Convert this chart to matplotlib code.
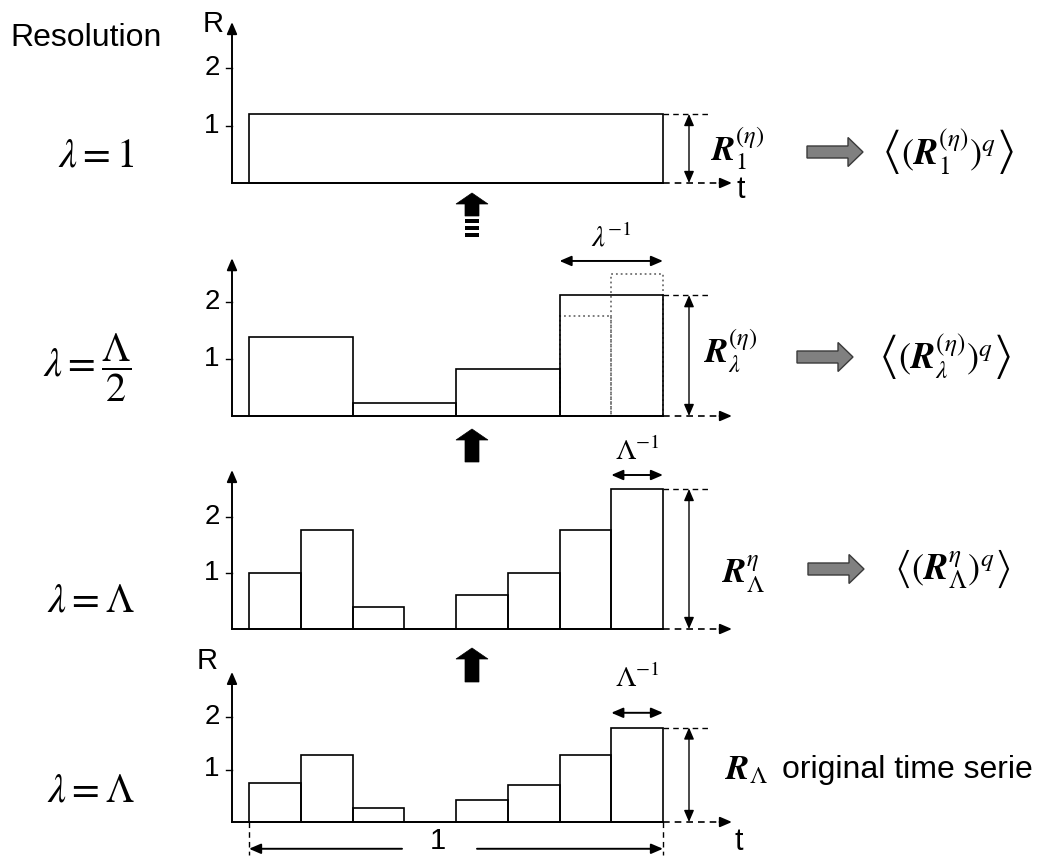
import numpy as np
import matplotlib.pyplot as plt
from matplotlib.patches import FancyArrow, Rectangle


plt.rcParams["font.family"] = ["Liberation Sans", "DejaVu Sans"]
plt.rcParams["mathtext.fontset"] = "stix"

# bar heights, one list per resolution
heights_res1 = [1.2]
heights_half = [1.38, 0.22, 0.82, 2.12]
heights_half_detail = [1.75, 2.5]  # dotted sub-bars in the last half-bin
heights_full = [1.0, 1.76, 0.4, 0.0, 0.6, 1.0, 1.76, 2.5]
heights_orig = [0.74, 1.28, 0.27, 0.0, 0.42, 0.71, 1.28, 1.8]
y_ticks = [1, 2]

W, H = 1058, 857
X0, X1 = 249, 663          # pixel position of t=0 and t=1
AX_LEFT, AX_RIGHT = 195, 770


def tpos(px):
    return (px - X0) / (X1 - X0)


AXIS_T = tpos(232)
BASE_END = tpos(732)
TOP_END = tpos(708)
V_T = tpos(689)
DASH = (0, (4, 3))


def panel_axes(fig, base, unit, top=3.3, bottom=0.62):
    y_top = base - top * unit
    y_bot = base + bottom * unit
    ax = fig.add_axes([AX_LEFT / W, 1 - y_bot / H, (AX_RIGHT - AX_LEFT) / W, (y_bot - y_top) / H])
    ax.set_xlim(tpos(AX_LEFT), tpos(AX_RIGHT))
    ax.set_ylim(-bottom, top)
    ax.axis("off")
    return ax


def arrow(ax, start, end, style="-|>", lw=1.4):
    ax.annotate("", xy=end, xytext=start,
                arrowprops=dict(arrowstyle=f"{style},head_length=0.7,head_width=0.3",
                                lw=lw, color="black", shrinkA=0, shrinkB=0),
                annotation_clip=False)


def draw_panel(ax, heights, axis_top):
    n = len(heights)
    left = np.arange(n) / n
    ax.bar(left, heights, width=1 / n, align="edge", fill=False,
           edgecolor="black", linewidth=1.2, clip_on=False)
    # axes
    arrow(ax, (AXIS_T, 0), (AXIS_T, axis_top))
    ax.plot([AXIS_T, 1], [0, 0], color="black", lw=1.4, clip_on=False)
    ax.plot([1, BASE_END - 0.02], [0, 0], color="black", lw=1.2, ls=DASH, clip_on=False)
    arrow(ax, (BASE_END - 0.03, 0), (BASE_END, 0))
    for v in y_ticks:
        ax.plot([AXIS_T - 0.015, AXIS_T], [v, v], color="black", lw=1.0, clip_on=False)
        ax.text(AXIS_T - 0.03, v, str(v), ha="right", va="center", fontsize=20)
    # height marker on the right
    top = max(heights)
    ax.plot([1, TOP_END], [top, top], color="black", lw=1.0, ls=DASH, clip_on=False)
    arrow(ax, (V_T, 0), (V_T, top), style="<|-|>", lw=1.0)
    return top


def width_marker(ax, t0, t1, y, label, label_y):
    arrow(ax, (t0, y), (t1, y), style="<|-|>", lw=1.4)
    ax.text((t0 + t1) / 2, label_y, label, ha="center", va="center", fontsize=21)


fig = plt.figure(figsize=(W / 100, H / 100), dpi=100)

# resolution 1
ax1 = panel_axes(fig, 183, 57.5)
draw_panel(ax1, heights_res1, 2.8)
ax1.text(tpos(711), 0.6, r"$\mathbfit{R}_1^{(\eta)}$", ha="left", va="center", fontsize=25)

# resolution Lambda/2
ax2 = panel_axes(fig, 416, 57)
ax2.bar([0.75, 0.875], heights_half_detail, width=0.125, align="edge", fill=False,
        edgecolor="#6f6f6f", linewidth=1.3, linestyle=":", clip_on=False)
draw_panel(ax2, heights_half, 2.77)
width_marker(ax2, 0.75, 1.0, 2.72, r"$\lambda^{-1}$", 3.12)
ax2.text(tpos(704), 1.15, r"$\mathbfit{R}_\lambda^{(\eta)}$", ha="left", va="center", fontsize=25)

# resolution Lambda
ax3 = panel_axes(fig, 629, 56)
draw_panel(ax3, heights_full, 2.84)
width_marker(ax3, 0.875, 1.0, 2.75, r"$\Lambda^{-1}$", 3.17)
ax3.text(tpos(722), 0.97, r"$\mathbfit{R}_\Lambda^{\eta}$", ha="left", va="center", fontsize=25)

# original series
ax4 = panel_axes(fig, 822, 52.5)
draw_panel(ax4, heights_orig, 2.86)
width_marker(ax4, 0.875, 1.0, 2.08, r"$\Lambda^{-1}$", 2.73)
ax4.text(tpos(725), 0.99, r"$\mathbfit{R}_\Lambda$", ha="left", va="center", fontsize=25)
ax4.text(tpos(782), 0.99, "original time serie", ha="left", va="center", fontsize=23)
for t in (0, 1):
    ax4.plot([t, t], [0, -0.62], color="black", lw=1.0, ls=DASH, clip_on=False)
arrow(ax4, (tpos(402), -0.51), (0, -0.51))
arrow(ax4, (tpos(477), -0.51), (1, -0.51))
ax4.text(tpos(438), -0.36, "1", ha="center", va="center", fontsize=21)

# overlay in pixel units for labels and block arrows
ov = fig.add_axes([0, 0, 1, 1])
ov.set_xlim(0, W)
ov.set_ylim(H, 0)
ov.axis("off")

ov.text(10, 38, "Resolution", ha="left", va="center", fontsize=23)
ov.text(96, 155, r"$\lambda = 1$", ha="center", va="center", fontsize=29)
ov.text(87, 368, r"$\lambda = \dfrac{\Lambda}{2}$", ha="center", va="center", fontsize=29)
ov.text(91, 600, r"$\lambda = \Lambda$", ha="center", va="center", fontsize=29)
ov.text(91, 790, r"$\lambda = \Lambda$", ha="center", va="center", fontsize=29)

ov.text(213, 24, "R", ha="center", va="center", fontsize=21)
ov.text(207, 661, "R", ha="center", va="center", fontsize=21)
ov.text(741, 190, "t", ha="center", va="center", fontsize=22)
ov.text(739, 842, "t", ha="center", va="center", fontsize=22)

moments = [
    (807, 152, 948, r"$\left\langle(\mathbfit{R}_1^{(\eta)})^q\right\rangle$"),
    (797, 357, 945, r"$\left\langle(\mathbfit{R}_\lambda^{(\eta)})^q\right\rangle$"),
    (808, 569, 952, r"$\left\langle(\mathbfit{R}_\Lambda^{\eta})^q\right\rangle$"),
]
for x, y, tx, label in moments:
    ov.add_patch(FancyArrow(x, y, 56, 0, width=12, head_width=29, head_length=15,
                            length_includes_head=True, facecolor="#808080",
                            edgecolor="#3a3a3a", linewidth=1.0))
    ov.text(tx, y, label, ha="center", va="center", fontsize=26)

for y_tail, y_tip in [(216, 193), (462, 429), (682, 648)]:
    ov.add_patch(FancyArrow(472, y_tail, 0, y_tip - y_tail, width=14, head_width=32,
                            head_length=11, length_includes_head=True,
                            facecolor="black", edgecolor="black", linewidth=0.5))
for y in (219, 226, 233):
    ov.add_patch(Rectangle((465, y), 14, 3.5, facecolor="black", edgecolor="none"))

fig.savefig("out.png", dpi=100, facecolor="white")
